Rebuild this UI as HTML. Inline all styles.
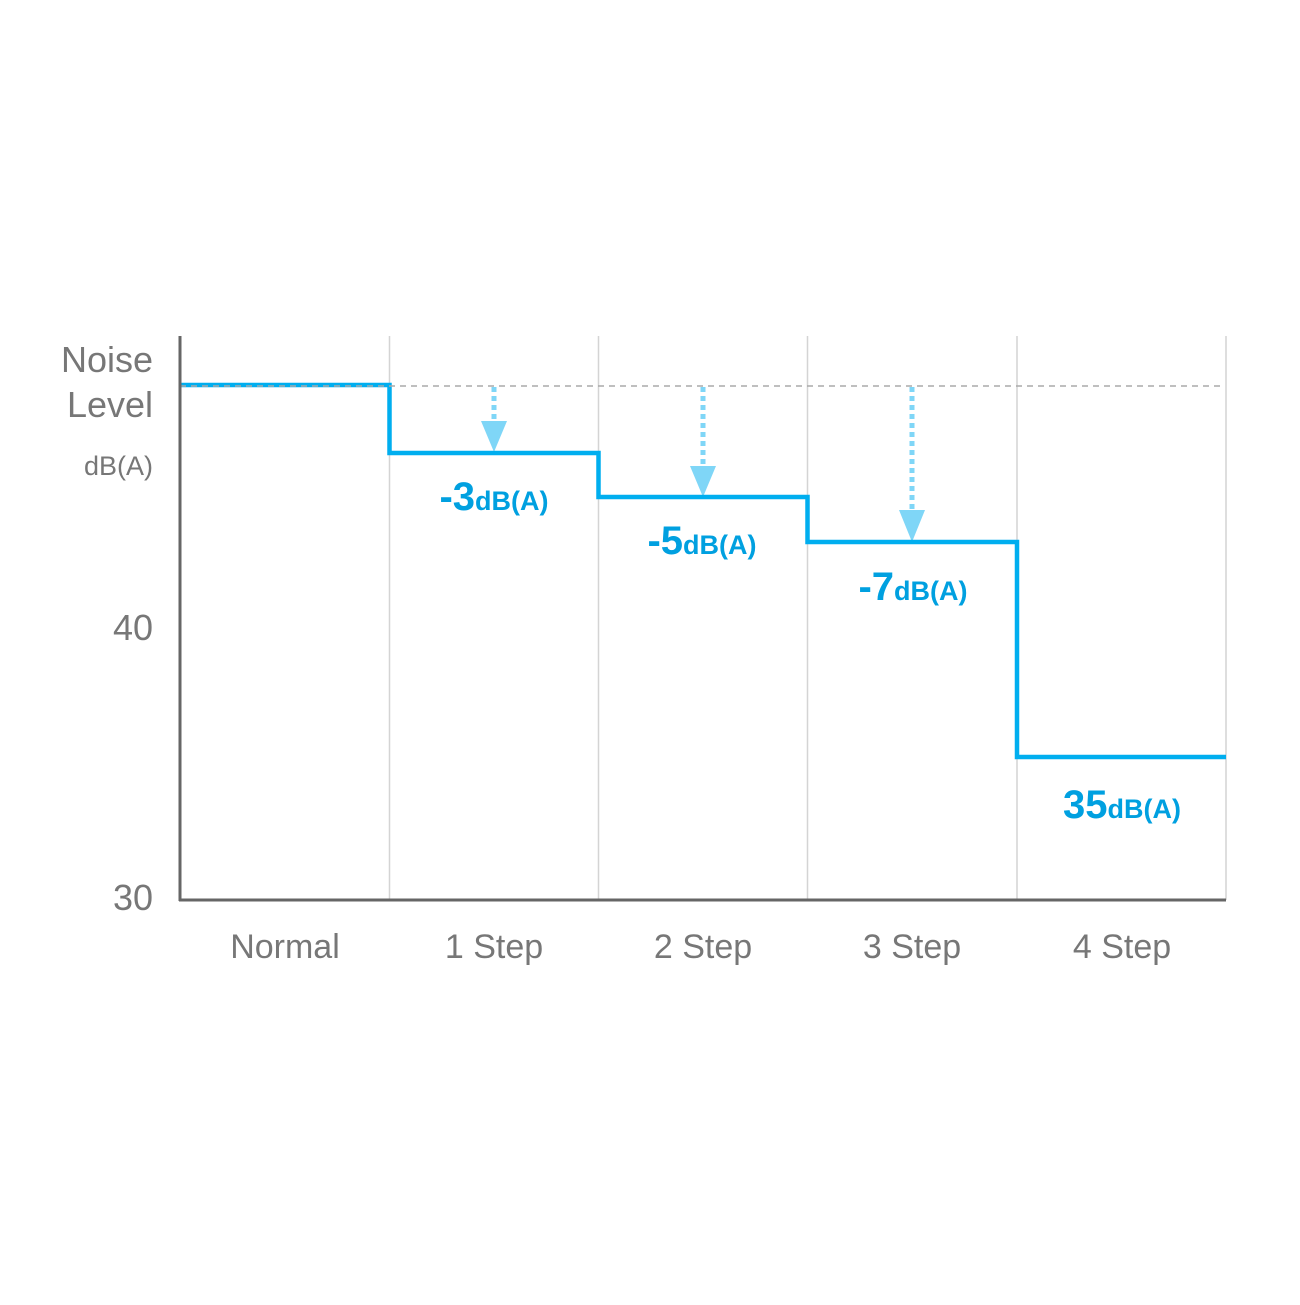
<!DOCTYPE html>
<html><head><style>body{margin:0;background:#fff}</style></head><body>
<svg width="1300" height="1300" xmlns="http://www.w3.org/2000/svg" font-family="Liberation Sans, sans-serif">
<rect width="1300" height="1300" fill="#fff"/>
<g stroke="#d4d4d4" stroke-width="1.5">
<line x1="389.5" y1="336" x2="389.5" y2="900"/>
<line x1="598.5" y1="336" x2="598.5" y2="900"/>
<line x1="807.5" y1="336" x2="807.5" y2="900"/>
<line x1="1017" y1="336" x2="1017" y2="900"/>
<line x1="1226" y1="336" x2="1226" y2="900"/>
</g>
<g stroke="#7fd6f7" stroke-width="5" stroke-dasharray="5,4">
<line x1="494" y1="387" x2="494" y2="425"/>
<line x1="703" y1="387" x2="703" y2="468"/>
<line x1="912" y1="387" x2="912" y2="513"/>
</g>
<g fill="#7fd6f7">
<polygon points="481,421 507,421 494,452"/>
<polygon points="690,466 716,466 703,497"/>
<polygon points="899,510 925,510 912,542"/>
</g>
<polyline points="180,385 389.5,385 389.5,453 598.5,453 598.5,497 807.5,497 807.5,542 1017,542 1017,757 1226,757" fill="none" stroke="#00aeef" stroke-width="4.5"/>
<line x1="180" y1="386" x2="1222" y2="386" stroke="#aaa" stroke-width="1.5" stroke-dasharray="6,5"/>
<line x1="180" y1="336" x2="180" y2="901" stroke="#666" stroke-width="3"/>
<line x1="179" y1="900" x2="1226" y2="900" stroke="#666" stroke-width="3"/>
<g fill="#777" text-anchor="end">
<text x="153" y="372" font-size="36">Noise</text>
<text x="153" y="417" font-size="36">Level</text>
<text x="153" y="475" font-size="27">dB(A)</text>
<text x="153" y="640" font-size="36">40</text>
<text x="153" y="910" font-size="36">30</text>
</g>
<g fill="#777" text-anchor="middle" font-size="34">
<text x="285" y="958">Normal</text>
<text x="494" y="958">1 Step</text>
<text x="703" y="958">2 Step</text>
<text x="912" y="958">3 Step</text>
<text x="1122" y="958">4 Step</text>
</g>
<g fill="#00a0e0" font-weight="bold" text-anchor="middle">
<text x="494" y="510"><tspan font-size="40">-3</tspan><tspan font-size="27">dB(A)</tspan></text>
<text x="702" y="554"><tspan font-size="40">-5</tspan><tspan font-size="27">dB(A)</tspan></text>
<text x="913" y="600"><tspan font-size="40">-7</tspan><tspan font-size="27">dB(A)</tspan></text>
<text x="1122" y="818"><tspan font-size="40">35</tspan><tspan font-size="27">dB(A)</tspan></text>
</g>
</svg>
</body></html>
